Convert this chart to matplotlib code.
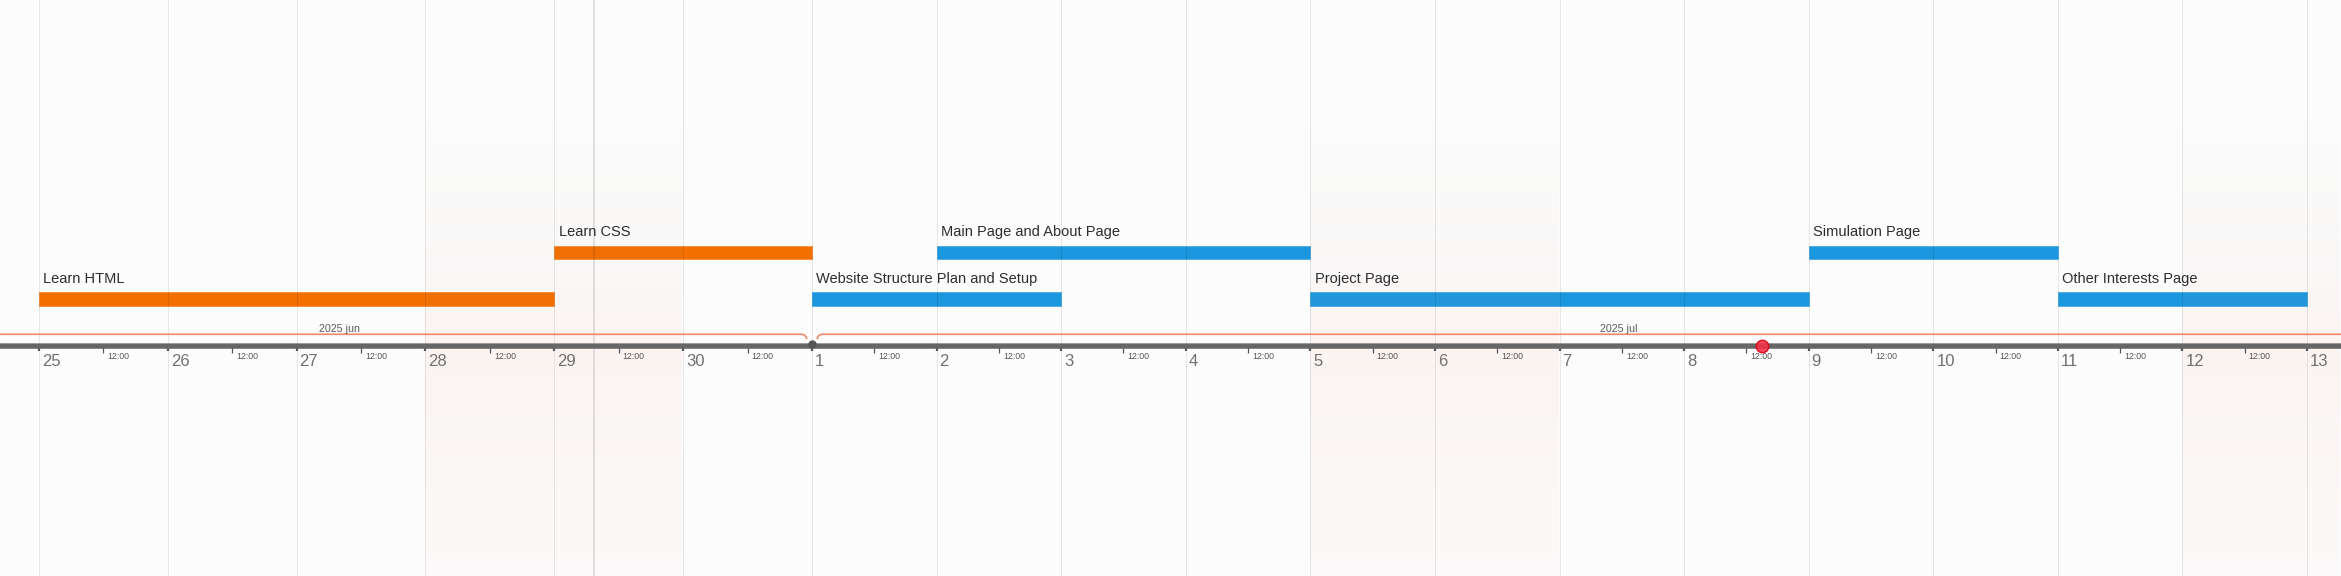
import numpy as np
import pandas as pd
import matplotlib
matplotlib.use("Agg")
import matplotlib.pyplot as plt
import matplotlib.dates as mdates
import matplotlib.transforms as mtrans

plt.rcParams["font.family"] = ["Liberation Sans", "DejaVu Sans"]

# ---------------- data ----------------
task_names = ["Learn HTML", "Learn CSS", "Website Structure Plan and Setup",
              "Main Page and About Page", "Project Page", "Simulation Page",
              "Other Interests Page"]
task_starts = ["2025-06-25", "2025-06-29", "2025-07-01", "2025-07-02",
               "2025-07-05", "2025-07-09", "2025-07-11"]
task_ends = ["2025-06-29", "2025-07-01", "2025-07-03", "2025-07-05",
             "2025-07-09", "2025-07-11", "2025-07-13"]
task_groups = ["learning", "learning", "building", "building",
               "building", "building", "building"]
task_lanes = [0, 1, 0, 1, 0, 1, 0]

weekend_starts = ["2025-06-28", "2025-07-05", "2025-07-12"]
weekend_ends = ["2025-06-30", "2025-07-07", "2025-07-14"]

month_names = ["2025 jun", "2025 jul"]
month_label_at = ["2025-06-27 08:00", "2025-07-07 11:30"]
month_change = "2025-07-01"
today_marker = "2025-07-08 15:00"
cursor_line = "2025-06-29 07:25"
view_start = "2025-06-24 16:47"
view_end = "2025-07-13 06:33"

# ---------------- style ----------------
BG = "#fcfcfc"
group_colors = {"learning": "#f26f00", "building": "#1a97df"}
group_edges = {"learning": "#f78c33", "building": "#45abe6"}
LANE0_Y = 299.1
LANE_STEP = 46.8
BAR_H = 13.6
AXIS_Y = 345.5

def num(seq):
    return mdates.date2num(pd.to_datetime(seq))

starts = num(task_starts)
ends = num(task_ends)
knot = float(num([month_change])[0])
june_stretch = 128.9 / 124.6

def fwd(x):
    x = np.asarray(x, dtype=float)
    return np.where(x < knot, knot + (x - knot) * june_stretch, x)

def inv(y):
    y = np.asarray(y, dtype=float)
    return np.where(y < knot, knot + (y - knot) / june_stretch, y)

fig = plt.figure(figsize=(23.41, 5.76), dpi=100, facecolor=BG)
ax = fig.add_axes([0, 0, 1, 1], facecolor=BG)
ax.set_xscale("function", functions=(fwd, inv))

xs, xe = num([view_start, view_end])

# bars
lane_y = [LANE0_Y - l * LANE_STEP for l in task_lanes]
ax.barh(lane_y, ends - starts, left=starts, height=BAR_H,
        color=[group_colors[g] for g in task_groups],
        edgecolor=[group_edges[g] for g in task_groups],
        linewidth=0.6, zorder=1.5)
for name, s, y in zip(task_names, starts, lane_y):
    ax.annotate(name, xy=(s, y - BAR_H / 2), xytext=(3.2, 6.5),
                textcoords="offset points", ha="left", va="baseline",
                fontsize=10.5, color="#2d2d2d", zorder=3)

# weekend shading gradient
yy = np.arange(576) + 0.5
alpha = np.interp(yy, [0, 110, 300, 345, 420, 576], [0, 0, 0.045, 0.08, 0.055, 0.02])
mix = np.clip((yy - 110) / (345 - 110), 0, 1)
gray = np.array([120, 120, 120]) / 255.0
pink = np.array([232, 140, 110]) / 255.0
rgb = gray[None, :] * (1 - mix[:, None]) + pink[None, :] * mix[:, None]
grad = np.concatenate([rgb, alpha[:, None]], axis=1)[:, None, :]
for w0, w1 in zip(num(weekend_starts), num(weekend_ends)):
    ax.imshow(grad, extent=(w0, w1, 576, 0), aspect="auto",
              interpolation="nearest", zorder=1.8)

# cursor line
ax.axvline(num([cursor_line])[0], color="#000000", alpha=0.12, lw=1.2, zorder=2.4)

# month bracket
h = 1.0 / 24
t = np.linspace(0, np.pi / 2, 20)
y_line, y_low = 334.3, 339.3
lx = np.concatenate([[xs], knot - 2 * h + h * np.sin(t)])
ly = np.concatenate([[y_line], y_line + (y_low - y_line) * (1 - np.cos(t))])
rx = np.concatenate([knot + h + h * (1 - np.cos(t)), [xe]])
ry = np.concatenate([y_low - (y_low - y_line) * np.sin(t), [y_line]])
ax.plot(lx, ly, color="#ef876a", lw=1.2, zorder=2.8, solid_capstyle="butt")
ax.plot(rx, ry, color="#ef876a", lw=1.2, zorder=2.8, solid_capstyle="butt")
for name, at in zip(month_names, num(month_label_at)):
    ax.text(at, 332, name, ha="center", va="baseline", fontsize=7.7,
            color="#5a5a5a", zorder=3)

# axis line (spine) and ticks
for s in ["left", "right", "top"]:
    ax.spines[s].set_visible(False)
ax.spines["bottom"].set_position(("data", AXIS_Y))
ax.spines["bottom"].set_linewidth(4.0)
ax.spines["bottom"].set_color("#666666")
ax.spines["bottom"].set_zorder(2.7)
ax.axhline(AXIS_Y - 2.9, color="#a5a5a5", lw=0.5, zorder=2.75)
ax.yaxis.set_visible(False)

ax.xaxis.set_major_locator(mdates.DayLocator())
ax.xaxis.set_major_formatter(mdates.DateFormatter("%-d"))
ax.xaxis.set_minor_locator(mdates.HourLocator(byhour=[12]))
ax.xaxis.set_minor_formatter(mdates.DateFormatter("%H:%M"))
ax.tick_params(axis="x", which="major", direction="out", length=3.4, width=1.6,
               color="#555555", labelsize=12, labelcolor="#707070", pad=2.8)
ax.tick_params(axis="x", which="minor", direction="out", length=4.9, width=0.9,
               color="#555555", labelsize=6.3, labelcolor="#555555", pad=-0.4)
ax.grid(True, axis="x", which="major", color="#000000", alpha=0.085, lw=0.75)
ax.set_axisbelow(False)

# markers
ax.plot([knot], [AXIS_Y - 2.0], "o", ms=5, color="#555555", zorder=4)
ax.plot([num([today_marker])[0]], [AXIS_Y], "o", ms=9, mfc="#f2334a",
        mec="#e3001b", mew=1.0, alpha=0.9, zorder=5)

ax.set_xlim(xs, xe)
ax.set_ylim(576, 0)

fig.canvas.draw()
off_major = mtrans.ScaledTranslation(3 / 100, 0, fig.dpi_scale_trans)
off_minor = mtrans.ScaledTranslation(4 / 100, 0, fig.dpi_scale_trans)
for tk in ax.xaxis.get_major_ticks():
    tk.label1.set_horizontalalignment("left")
    tk.label1.set_transform(tk.label1.get_transform() + off_major)
for tk in ax.xaxis.get_minor_ticks():
    tk.label1.set_horizontalalignment("left")
    tk.label1.set_transform(tk.label1.get_transform() + off_minor)

fig.savefig("out.png", dpi=100, facecolor=BG)
